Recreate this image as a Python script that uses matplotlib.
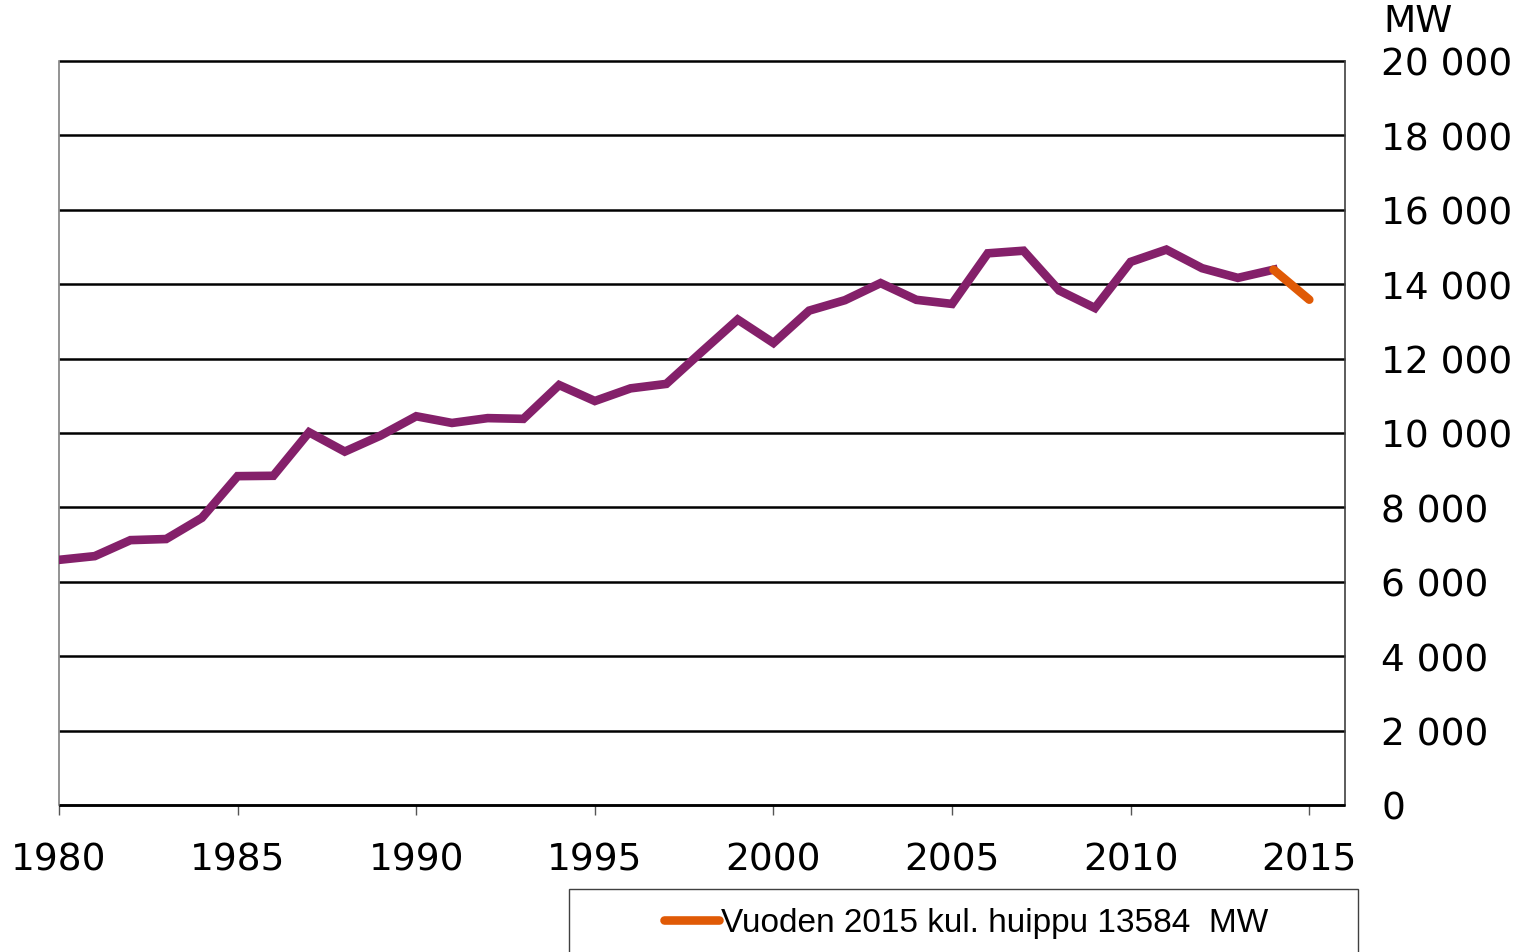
import matplotlib
matplotlib.use("Agg")
import matplotlib.pyplot as plt
from matplotlib.patches import Rectangle
from matplotlib.lines import Line2D
from matplotlib.ticker import FuncFormatter

years = list(range(1980, 2015))
peak_mw = [6590, 6690, 7120, 7150, 7720, 8840, 8850, 10020, 9500, 9930,
           10450, 10270, 10400, 10380, 11290, 10860, 11200, 11320, 12190, 13050,
           12420, 13290, 13570, 14030, 13580, 13470, 14830, 14900, 13830, 13360,
           14600, 14930, 14430, 14170, 14390]
latest_years = [2014, 2015]
latest_mw = [14390, 13584]
legend_label = "Vuoden 2015 kul. huippu 13584  MW"
x_ticks = [1980, 1985, 1990, 1995, 2000, 2005, 2010, 2015]
y_ticks = list(range(0, 20001, 2000))

purple = "#84206A"
orange = "#E05A06"

fig = plt.figure(figsize=(15.22, 9.53), dpi=100)
ax = fig.add_axes([59/1522, 1-806/953, (1345-59)/1522, (806-62)/953])

ax.plot(years, peak_mw, color=purple, lw=6.2, solid_joinstyle="miter", zorder=3)
ax.plot(latest_years, latest_mw, color=orange, lw=6.2, solid_capstyle="round", zorder=4)

ax.set_xlim(1980, 2016)
ax.set_ylim(0, 20000)
ax.set_xticks(x_ticks)
ax.set_yticks(y_ticks)
ax.yaxis.tick_right()
ax.yaxis.set_major_formatter(FuncFormatter(lambda v, p: f"{int(v):,}".replace(",", " ")))
ax.tick_params(axis="y", length=0, pad=26, labelsize=27, colors="black")
for lab in ax.get_yticklabels():
    lab.set_horizontalalignment("left")
ax.tick_params(axis="x", length=7, width=1, color="#555555", direction="out",
               pad=19, labelsize=27)

ax.grid(axis="y", color="black", lw=1.8)
for gl in ax.get_ygridlines():
    gl.set_clip_on(False)
    gl.set_solid_capstyle("butt")
ax.set_axisbelow(True)
ax.spines["top"].set_visible(False)
ax.spines["left"].set_color("#808080")
ax.spines["left"].set_linewidth(1.2)
ax.spines["right"].set_color("#404040")
ax.spines["right"].set_linewidth(1.2)
ax.spines["bottom"].set_color("black")
ax.spines["bottom"].set_linewidth(1.8)
ax.spines["bottom"].set_capstyle("butt")

fig.text(1383/1522, 1-22/953, "MW", fontsize=27, ha="left", va="center")

# legend box (extends below the figure edge)
fig.patches.append(Rectangle((569/1522, -0.05), (1358-569)/1522, 0.05 + 1-890/953,
                             transform=fig.transFigure, facecolor="white",
                             edgecolor="#404040", lw=1.0, zorder=1))
handle = Line2D([], [], color=orange, lw=6.2, solid_capstyle="round")
leg = fig.legend([handle], [legend_label], loc="center",
                 bbox_to_anchor=(966/1522, 1-924/953), frameon=False,
                 handlelength=1.65, handletextpad=0.05,
                 prop={"family": "Liberation Sans", "size": 24})
leg.set_zorder(5)

fig.savefig("out.png", dpi=100)
